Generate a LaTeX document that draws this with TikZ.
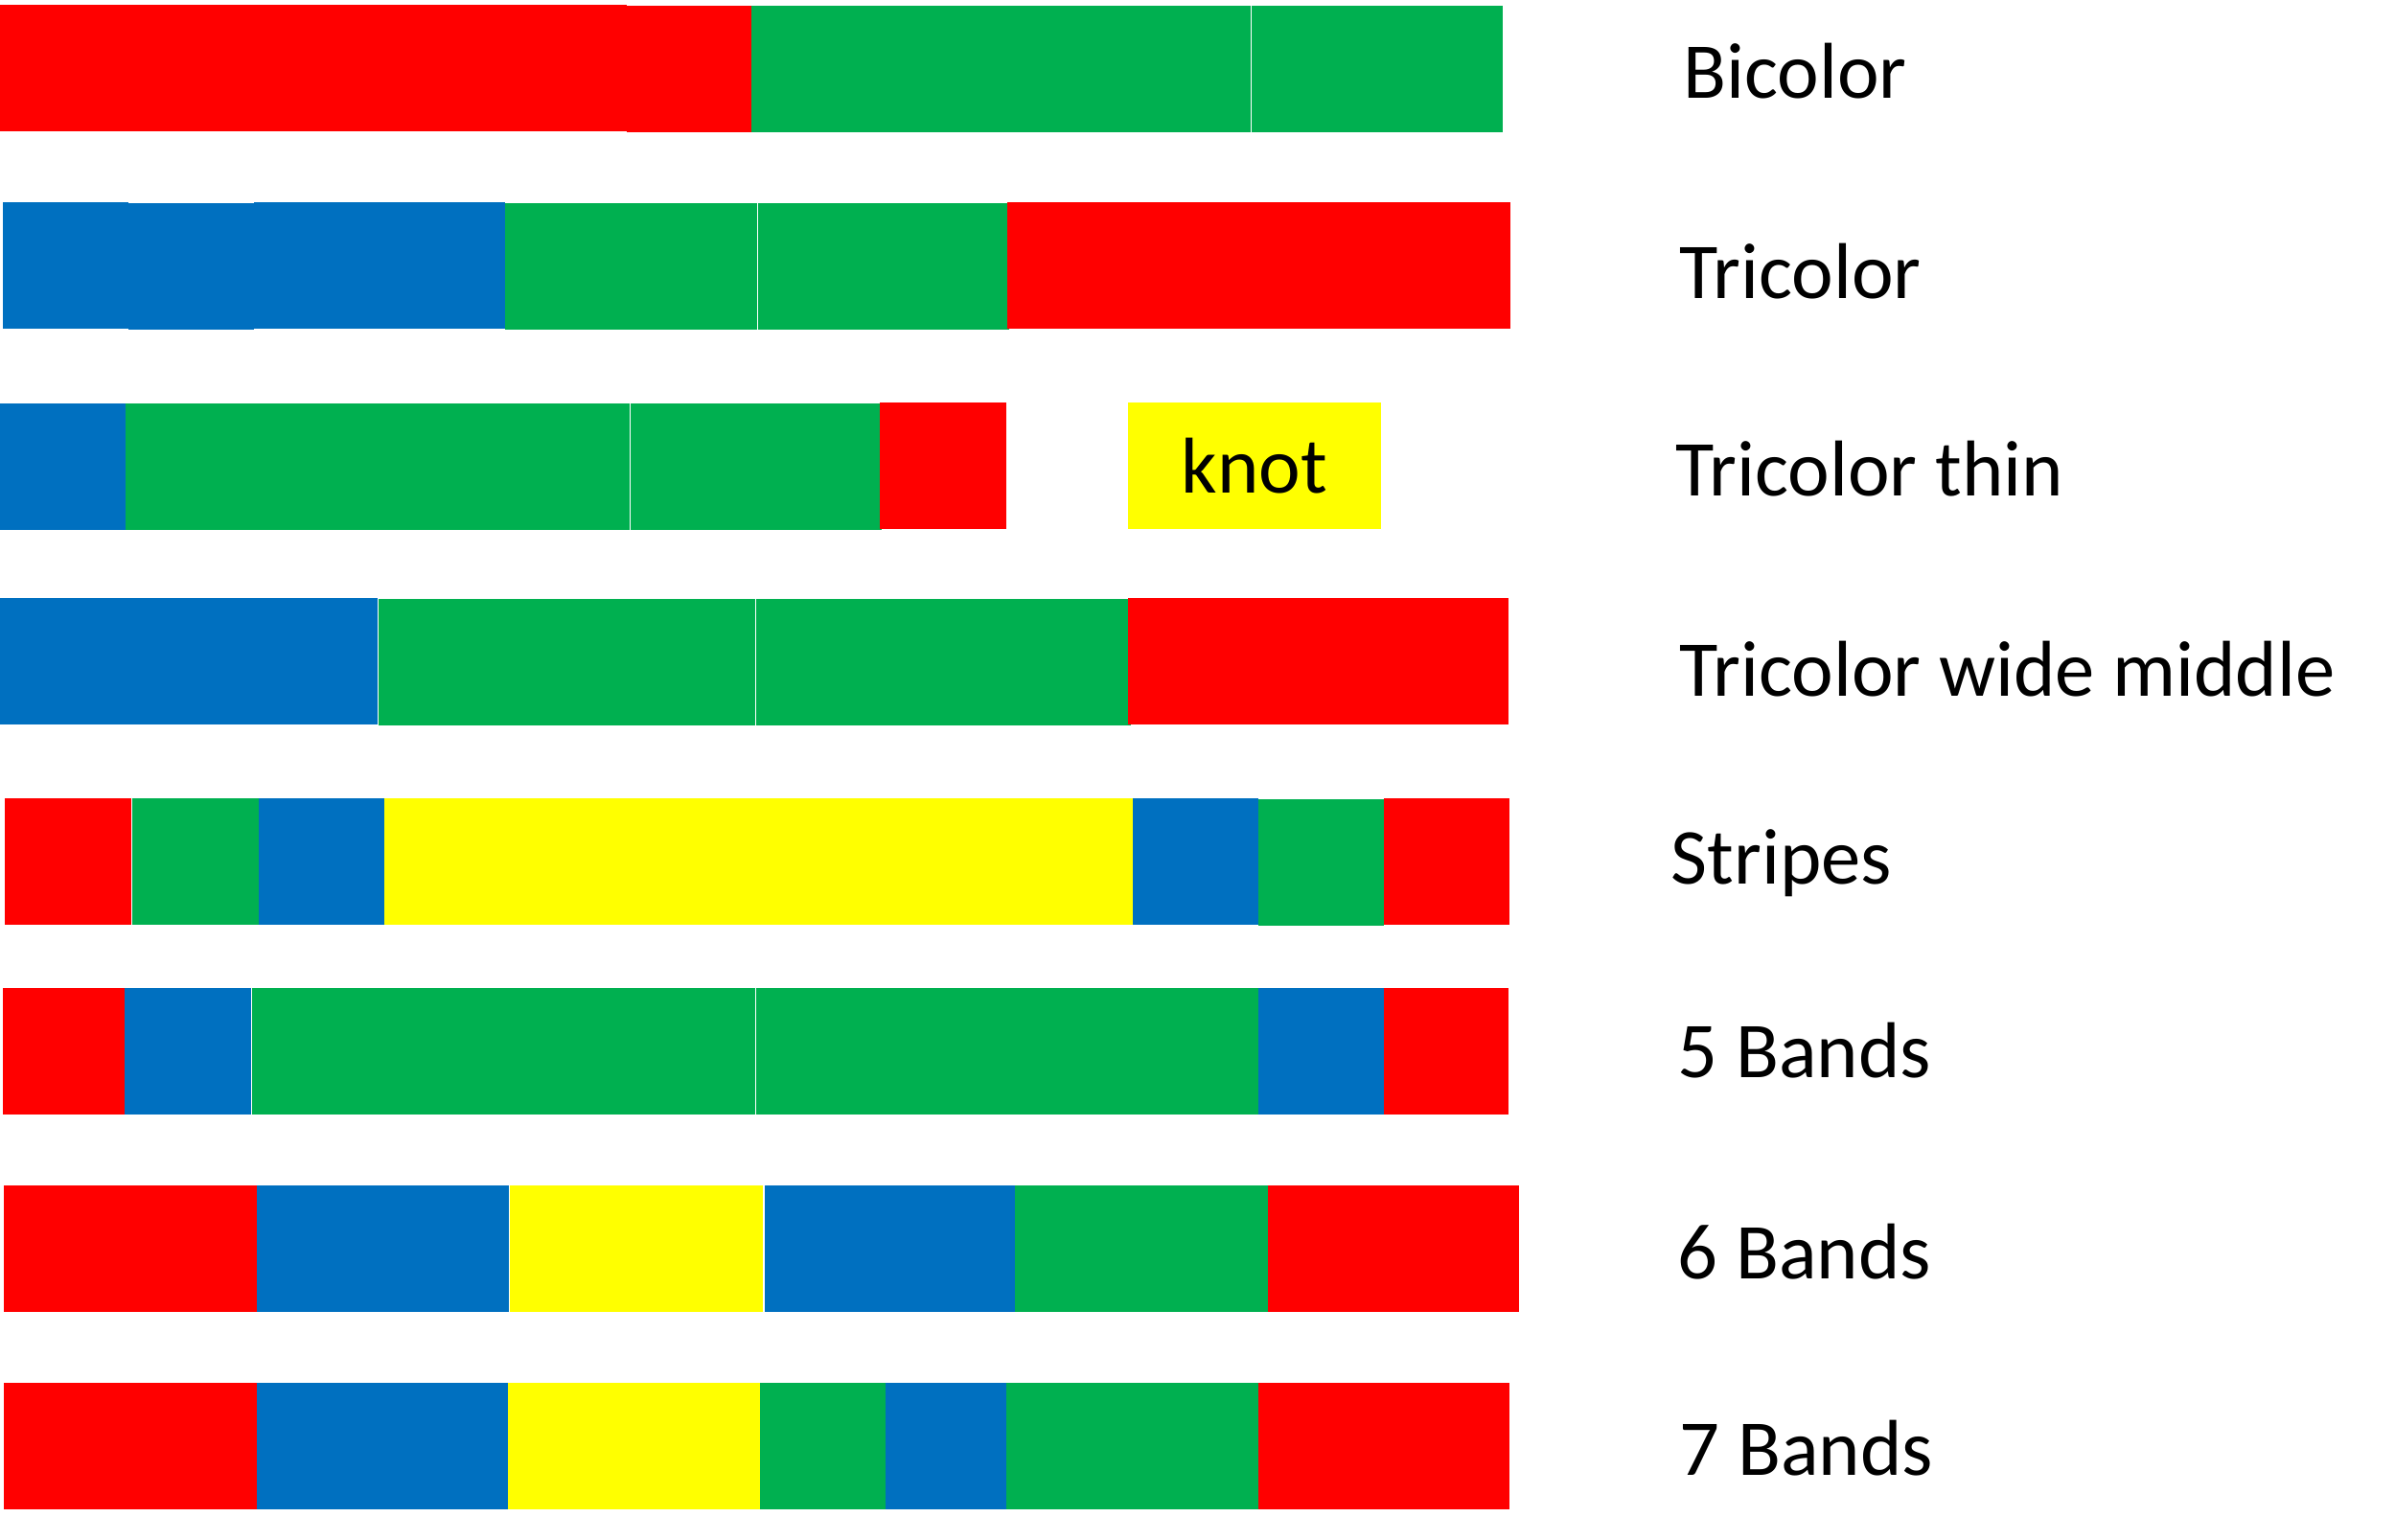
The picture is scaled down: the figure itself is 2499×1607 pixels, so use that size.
\documentclass[tikz,border=0pt]{standalone}
\usepackage{fontspec}
\setmainfont{Carlito}
\definecolor{cred}{HTML}{FF0000}
\definecolor{cgreen}{HTML}{00B050}
\definecolor{cblue}{HTML}{0070C0}
\definecolor{cyellow}{HTML}{FFFF00}
\begin{document}
\begin{tikzpicture}[x=0.01cm,y=-0.01cm,
  lbl/.style={anchor=base west,inner sep=0pt,xshift=-0.04cm,font=\fontsize{23.5pt}{28pt}\selectfont},
  knotbox/.style={fill=cyellow,inner sep=0pt,minimum width=2.64cm,minimum height=1.32cm,font=\fontsize{23.5pt}{28pt}\selectfont}]
\useasboundingbox (0,0) rectangle (2499,1607);
% Row 1: Bicolor
\fill[cred] (0,5) rectangle (654,137);
\fill[cred] (654,6) rectangle (784,138);
\fill[cgreen] (784,6) rectangle (1305,138);
\fill[cgreen] (1306,6) rectangle (1568,138);
\node[lbl] (l1) at (1760,103) {Bicolor};
% Row 2: Tricolor
\fill[cblue] (3,211) rectangle (134,343);
\fill[cblue] (134,212) rectangle (265,344);
\fill[cblue] (265,211) rectangle (527,343);
\fill[cgreen] (527,212) rectangle (790,344);
\fill[cgreen] (791,212) rectangle (1053,344);
\fill[cred] (1051,211) rectangle (1576,343);
\node[lbl] (l2) at (1756,312) {Tricolor};
% Row 3: Tricolor thin
\fill[cblue] (0,421) rectangle (131,553);
\fill[cgreen] (131,421) rectangle (657,553);
\fill[cgreen] (658,421) rectangle (920,553);
\fill[cred] (918,420) rectangle (1050,552);
\node[knotbox] (knot) at (1309,486) {knot};
\node[lbl] (l3) at (1752,518) {Tricolor thin};
% Row 4: Tricolor wide middle
\fill[cblue] (0,624) rectangle (394,756);
\fill[cgreen] (395,625) rectangle (788,757);
\fill[cgreen] (789,625) rectangle (1180,757);
\fill[cred] (1177,624) rectangle (1574,756);
\node[lbl] (l4) at (1756,727) {Tricolor wide middle};
% Row 5: Stripes
\fill[cred] (5,833) rectangle (137,965);
\fill[cgreen] (138,833) rectangle (270,965);
\fill[cblue] (270,833) rectangle (401,965);
\fill[cyellow] (401,833) rectangle (1182,965);
\fill[cblue] (1182,833) rectangle (1313,965);
\fill[cgreen] (1313,834) rectangle (1444,966);
\fill[cred] (1444,833) rectangle (1575,965);
\node[lbl] (l5) at (1747,923) {Stripes};
% Row 6: 5 Bands
\fill[cred] (3,1031) rectangle (130,1163);
\fill[cblue] (130,1031) rectangle (262,1163);
\fill[cgreen] (263,1031) rectangle (788,1163);
\fill[cgreen] (789,1031) rectangle (1313,1163);
\fill[cblue] (1313,1031) rectangle (1444,1163);
\fill[cred] (1444,1031) rectangle (1574,1163);
\node[lbl] (l6) at (1754,1125) {5 Bands};
% Row 7: 6 Bands
\fill[cred] (4,1237) rectangle (268,1369);
\fill[cblue] (268,1237) rectangle (531,1369);
\fill[cyellow] (532,1237) rectangle (796,1369);
\fill[cblue] (798,1237) rectangle (1059,1369);
\fill[cgreen] (1059,1237) rectangle (1323,1369);
\fill[cred] (1323,1237) rectangle (1585,1369);
\node[lbl] (l7) at (1754,1334) {6 Bands};
% Row 8: 7 Bands
\fill[cred] (4,1443) rectangle (268,1575);
\fill[cblue] (268,1443) rectangle (530,1575);
\fill[cyellow] (530,1443) rectangle (793,1575);
\fill[cgreen] (793,1443) rectangle (924,1575);
\fill[cblue] (924,1443) rectangle (1050,1575);
\fill[cgreen] (1050,1443) rectangle (1313,1575);
\fill[cred] (1313,1443) rectangle (1575,1575);
\node[lbl] (l8) at (1756,1540) {7 Bands};
\end{tikzpicture}
\end{document}
